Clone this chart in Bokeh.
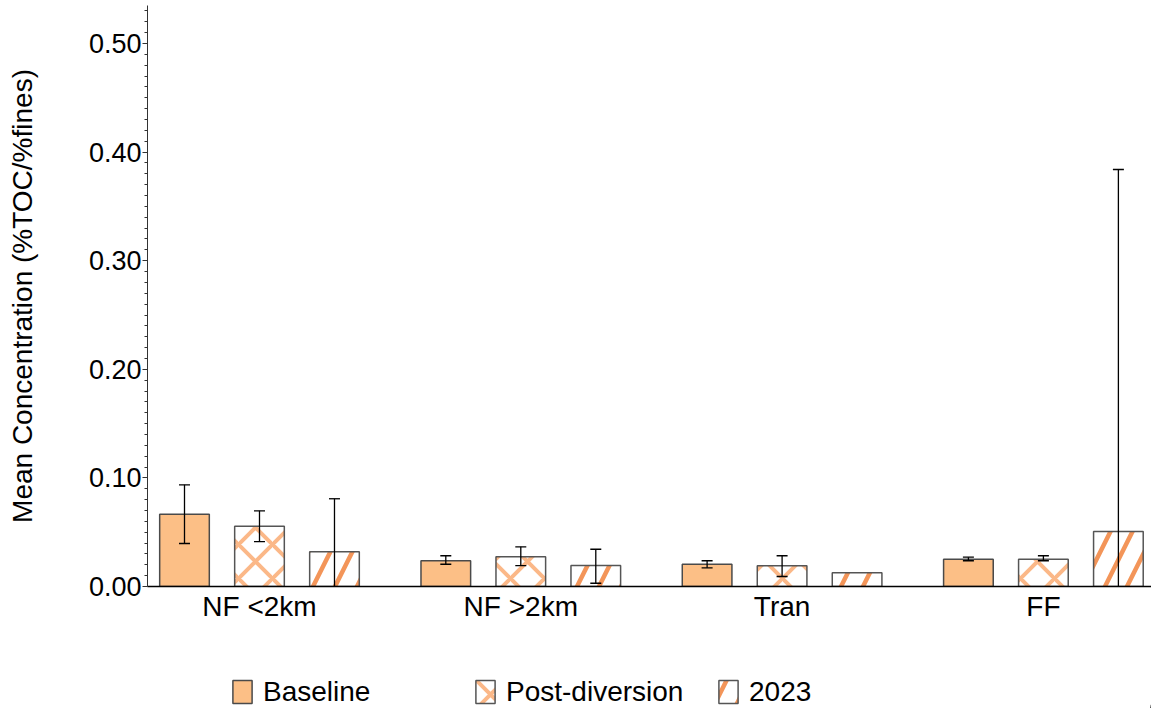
from bokeh.plotting import figure
from bokeh.layouts import column
from bokeh.models import (Range1d, FixedTicker, NumeralTickFormatter, Whisker, TeeHead,
                          ColumnDataSource, Legend, LegendItem)
from bokeh.embed import file_html
from bokeh.resources import INLINE

# ---- data ----
categories = ["NF <2km", "NF >2km", "Tran", "FF"]
series = ["Baseline", "Post-diversion", "2023"]

baseline_mean = [0.0666, 0.0237, 0.0205, 0.0252]
baseline_lo = [0.0396, 0.0205, 0.0172, 0.0237]
baseline_hi = [0.0936, 0.0283, 0.0237, 0.0270]

post_mean = [0.0555, 0.0273, 0.0190, 0.0252]
post_lo = [0.0414, 0.0193, 0.0092, 0.0237]
post_hi = [0.0697, 0.0365, 0.0283, 0.0283]

y2023_mean = [0.0320, 0.0193, 0.0126, 0.0506]
y2023_lo = [0.0, 0.0030, None, 0.0]
y2023_hi = [0.0808, 0.0343, None, 0.3840]

y_ticks = [0.0, 0.1, 0.2, 0.3, 0.4, 0.5]
y_minor = [round(i * 0.01, 2) for i in range(0, 54)]

FONT = "Liberation Sans"
offsets = [-0.287, 0.0, 0.287]
bar_w = 0.19

STYLE_B = dict(fill_color="#FCBF86", line_color="#4a4a4a", line_width=1.5)
STYLE_P = dict(fill_color="white", line_color="#555555", line_width=1.5,
               hatch_pattern="diagonal_cross", hatch_color="#F9A060", hatch_scale=34,
               hatch_weight=4, hatch_alpha=0.75)
STYLE_N = dict(fill_color="white", line_color="#555555", line_width=1.5,
               hatch_pattern="right_diagonal_line", hatch_color="#F07A30", hatch_scale=44,
               hatch_weight=4.5, hatch_alpha=0.8)

p = figure(width=1151, height=650, output_backend="svg", toolbar_location=None,
           x_range=Range1d(-0.4286, 3.4137), y_range=Range1d(0, 0.535),
           min_border_left=147, min_border_right=0, min_border_top=5, min_border_bottom=64)
p.xgrid.visible = False
p.ygrid.visible = False
p.outline_line_color = None
p.background_fill_color = "white"

# y axis
p.yaxis.ticker = FixedTicker(ticks=y_ticks, minor_ticks=y_minor)
p.yaxis.formatter = NumeralTickFormatter(format="0.00")
p.yaxis.major_tick_out = 5
p.yaxis.major_tick_in = 0
p.yaxis.minor_tick_out = 3
p.yaxis.minor_tick_in = 0
p.yaxis.axis_line_color = "#333333"
p.yaxis.major_tick_line_color = "#333333"
p.yaxis.minor_tick_line_color = "#333333"
p.yaxis.major_label_text_font = FONT
p.yaxis.major_label_text_font_size = "27px"
p.yaxis.major_label_text_color = "black"
p.yaxis.major_label_standoff = 1
p.yaxis.axis_label = "Mean Concentration (%TOC/%fines)"
p.yaxis.axis_label_text_font = FONT
p.yaxis.axis_label_text_font_size = "28px"
p.yaxis.axis_label_text_font_style = "normal"
p.yaxis.axis_label_text_color = "black"
p.yaxis.axis_label_standoff = 48

# x axis
p.xaxis.ticker = FixedTicker(ticks=[0, 1, 2, 3], minor_ticks=[])
p.xaxis.major_label_overrides = {i: c for i, c in enumerate(categories)}
p.xaxis.major_tick_out = 0
p.xaxis.major_tick_in = 0
p.xaxis.axis_line_color = "black"
p.xaxis.axis_line_width = 1.5
p.xaxis.major_label_text_font = FONT
p.xaxis.major_label_text_font_size = "28px"
p.xaxis.major_label_text_color = "black"
p.xaxis.major_label_standoff = 4

xs = list(range(len(categories)))

src_b = ColumnDataSource(dict(x=[i + offsets[0] for i in xs], top=baseline_mean))
src_p = ColumnDataSource(dict(x=[i + offsets[1] for i in xs], top=post_mean))
src_n = ColumnDataSource(dict(x=[i + offsets[2] for i in xs], top=y2023_mean))

p.vbar(x="x", top="top", width=bar_w, source=src_b, **STYLE_B)
p.vbar(x="x", top="top", width=bar_w, source=src_p, **STYLE_P)
p.vbar(x="x", top="top", width=bar_w, source=src_n, **STYLE_N)

# error bars
both_x, both_lo, both_hi = [], [], []
up_x, up_lo, up_hi = [], [], []
for k, (lo_list, hi_list) in enumerate([(baseline_lo, baseline_hi), (post_lo, post_hi),
                                         (y2023_lo, y2023_hi)]):
    for i in xs:
        lo, hi = lo_list[i], hi_list[i]
        if lo is None or hi is None:
            continue
        if lo > 0:
            both_x.append(i + offsets[k]); both_lo.append(lo); both_hi.append(hi)
        else:
            up_x.append(i + offsets[k]); up_lo.append(lo); up_hi.append(hi)

w1 = Whisker(source=ColumnDataSource(dict(x=both_x, lower=both_lo, upper=both_hi)),
             base="x", lower="lower", upper="upper", line_color="black", line_width=1.3,
             upper_head=TeeHead(size=11, line_color="black", line_width=1.3),
             lower_head=TeeHead(size=11, line_color="black", line_width=1.3),
             level="overlay")
w2 = Whisker(source=ColumnDataSource(dict(x=up_x, lower=up_lo, upper=up_hi)),
             base="x", lower="lower", upper="upper", line_color="black", line_width=1.3,
             upper_head=TeeHead(size=11, line_color="black", line_width=1.3),
             lower_head=None, level="overlay")
p.add_layout(w1)
p.add_layout(w2)

# ---- legend strip below the chart (same series, view range shows no bars) ----
lg = figure(width=1151, height=58, output_backend="svg", toolbar_location=None,
            x_range=Range1d(-100, -99), y_range=Range1d(0, 1),
            x_axis_location=None, y_axis_location=None,
            min_border=0, min_border_left=0, min_border_right=0,
            min_border_top=0, min_border_bottom=0)
lg.xgrid.visible = False
lg.ygrid.visible = False
lg.outline_line_color = None
lb = lg.vbar(x="x", top="top", width=bar_w, source=src_b, **STYLE_B)
lp = lg.vbar(x="x", top="top", width=bar_w, source=src_p, **STYLE_P)
ln = lg.vbar(x="x", top="top", width=bar_w, source=src_n, **STYLE_N)

legend = Legend(items=[LegendItem(label=series[0], renderers=[lb]),
                       LegendItem(label=series[1], renderers=[lp]),
                       LegendItem(label=series[2], renderers=[ln])],
                orientation="horizontal", location=(83, -3),
                glyph_width=24, glyph_height=29, label_standoff=9, label_width=208,
                label_height=39, spacing=2, padding=0, margin=0,
                label_text_font=FONT, label_text_font_size="28px",
                label_text_color="black", border_line_color=None,
                background_fill_alpha=0)
lg.add_layout(legend, "center")

layout = column(p, lg, spacing=0)
open("out.html", "w").write(file_html(layout, INLINE))
